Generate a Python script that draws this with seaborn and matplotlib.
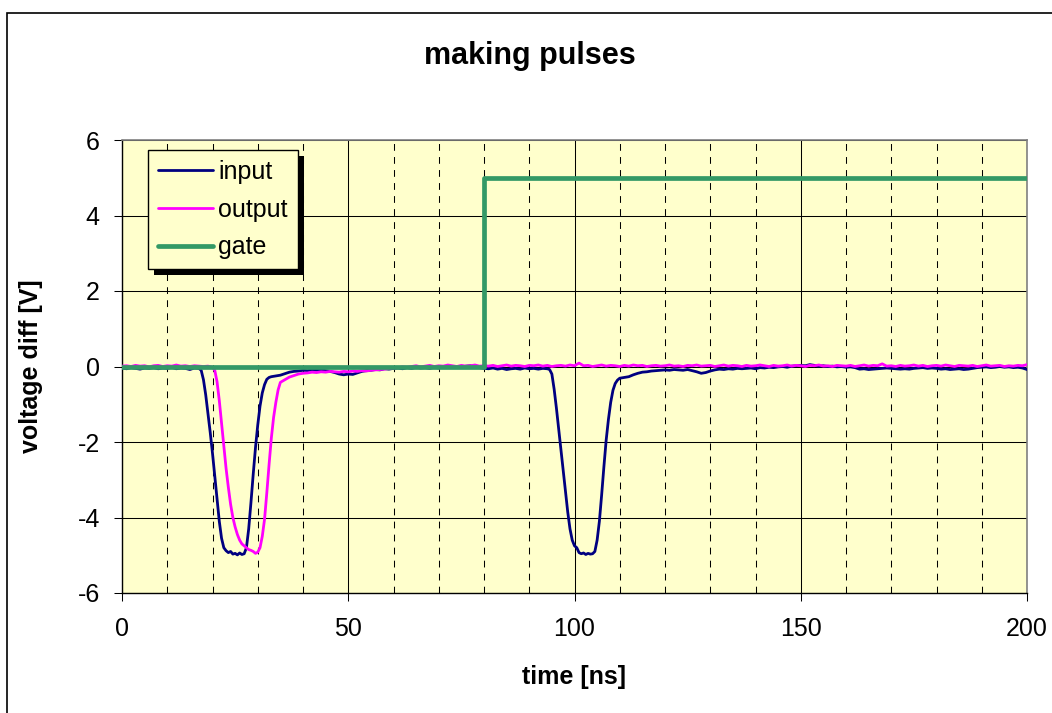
import matplotlib
matplotlib.use('Agg')
import matplotlib.pyplot as plt
from matplotlib.patches import Rectangle
import pandas as pd
import seaborn as sns

# input pulse trace
input_t = [
    0, 1, 2, 3, 4, 5, 6, 7, 8, 9, 10, 11, 12, 13, 14, 15, 16, 17,
    17.5, 18, 18.5, 19, 19.5, 20, 20.5, 21, 21.5, 22, 22.5, 23, 23.5, 24,
    24.5, 25, 25.5, 26, 26.5, 27, 27.5, 28, 28.5, 29, 29.5, 30, 30.5, 31,
    31.5, 32, 32.5,
    33, 34, 35, 36, 37, 38, 39, 40, 41, 42, 43, 44, 45, 46, 47, 48, 49, 50,
    51, 52, 53, 54, 55, 56, 57, 58, 59, 60, 61, 62, 63, 64, 65, 66, 67, 68,
    69, 70, 71, 72, 73, 74, 75, 76, 77, 78, 79, 80, 81, 82, 83, 84, 85, 86,
    87, 88, 89, 90, 91, 92, 93, 94,
    94.5, 95, 95.5, 96, 96.5, 97, 97.5, 98, 98.5, 99, 99.5, 100, 100.5, 101,
    101.5, 102, 102.5, 103, 103.5, 104, 104.5, 105, 105.5, 106, 106.5, 107,
    107.5, 108, 108.5, 109, 109.5, 110,
    111, 112, 113, 114, 115, 116, 117, 118, 119, 120, 121, 122, 123, 124,
    125, 126, 127, 128, 129, 130, 131, 132, 133, 134, 135, 136, 137, 138,
    139, 140, 141, 142, 143, 144, 145, 146, 147, 148, 149, 150, 151, 152,
    153, 154, 155, 156, 157, 158, 159, 160, 161, 162, 163, 164, 165, 166,
    167, 168, 169, 170, 171, 172, 173, 174, 175, 176, 177, 178, 179, 180,
    181, 182, 183, 184, 185, 186, 187, 188, 189, 190, 191, 192, 193, 194,
    195, 196, 197, 198, 199, 200,
]
input_v = [
    -0.04, -0.06, -0.03, -0.05, -0.07, -0.04, -0.05, -0.03, -0.06, -0.04,
    -0.05, -0.02, -0.06, -0.04, -0.05, -0.08, -0.04, -0.05,
    -0.1, -0.35, -0.75, -1.25, -1.75, -2.3, -2.9, -3.5, -4.1, -4.55, -4.8,
    -4.88, -4.93, -4.9, -4.97, -4.95, -4.99, -4.94, -4.98, -4.96, -4.8,
    -4.3, -3.6, -2.85, -2.15, -1.55, -1.05, -0.7, -0.48, -0.34, -0.29,
    -0.27, -0.25, -0.23, -0.19, -0.15, -0.13, -0.12, -0.1, -0.11, -0.09,
    -0.1, -0.08, -0.11, -0.13, -0.16, -0.2, -0.22, -0.2, -0.21, -0.17,
    -0.13, -0.11, -0.1, -0.08, -0.09, -0.06, -0.07, -0.05,
    -0.04, -0.06, -0.03, -0.05, -0.02, -0.04, -0.03, -0.05, -0.02, -0.04,
    -0.01, -0.03, -0.02, 0.0, -0.02, 0.01, 0.02, 0.0, -0.03,
    -0.05, -0.06, -0.04, -0.07, -0.05, -0.08, -0.06, -0.05, -0.07, -0.04,
    -0.06, -0.05, -0.07, -0.05, -0.06,
    -0.08, -0.2, -0.6, -1.1, -1.65, -2.2, -2.75, -3.3, -3.85, -4.3, -4.6,
    -4.75, -4.8, -4.93, -4.96, -4.94, -4.98, -4.95, -4.97, -4.96, -4.9,
    -4.6, -4.1, -3.4, -2.65, -1.95, -1.4, -0.95, -0.63, -0.45, -0.36, -0.31,
    -0.29, -0.27, -0.22, -0.18, -0.15, -0.14, -0.12, -0.11, -0.1, -0.09,
    -0.1, -0.08, -0.09, -0.1, -0.08, -0.11, -0.14,
    -0.18, -0.16, -0.12, -0.09, -0.07,
    -0.08, -0.06, -0.07, -0.05, -0.06, -0.05, -0.04, -0.06, -0.03, -0.04,
    -0.02, -0.03, -0.01, 0.0, -0.02, 0.01, 0.02,
    0.03, 0.02, 0.05, 0.03, 0.01, 0.02, 0.0, 0.01, -0.01, 0.0, -0.02, -0.01,
    -0.03,
    -0.07, -0.06, -0.08, -0.07, -0.06, -0.05,
    -0.04, -0.05, -0.06, -0.07, -0.06, -0.07, -0.05, -0.04, -0.03, -0.05,
    -0.04, -0.05,
    -0.07, -0.06, -0.08, -0.07, -0.06, -0.08, -0.07, -0.05,
    -0.03, -0.02, -0.01, -0.03, -0.02, 0.0, -0.02, -0.01, -0.03, -0.02,
    -0.04, -0.08,
]

# output trace
output_t = [
    0, 1, 2, 3, 4, 5, 6, 7, 8, 9, 10, 11, 12, 13, 14, 15, 16, 17, 18, 19,
    20, 20.5, 21, 21.5, 22, 22.5, 23, 23.5, 24, 24.5, 25, 25.5, 26, 26.5,
    27, 27.5, 28, 28.5, 29, 29.5, 30, 30.5, 31, 31.5, 32, 32.5, 33, 33.5,
    34, 34.5, 35,
    36, 37, 38, 39, 40, 41, 42, 43, 44, 45, 46, 47, 48, 49, 50, 51, 52, 53,
    54, 55, 56, 57, 58, 59, 60, 61, 62, 63, 64, 65, 66, 67, 68, 69, 70, 71,
    72, 73, 74, 75, 76, 77, 78, 79, 80,
    81, 82, 83, 84, 85, 86, 87, 88, 89, 90, 91, 92, 93, 94, 95, 96, 97, 98,
    99, 100, 101, 102, 103, 104, 105, 106, 107, 108, 109, 110, 111, 112,
    113, 114, 115, 116, 117, 118, 119, 120, 121, 122, 123, 124, 125, 126,
    127, 128, 129, 130, 131, 132, 133, 134, 135, 136, 137, 138, 139, 140,
    141, 142, 143, 144, 145, 146, 147, 148, 149, 150, 151, 152, 153, 154,
    155, 156, 157, 158, 159, 160, 161, 162, 163, 164, 165, 166, 167, 168,
    169, 170, 171, 172, 173, 174, 175, 176, 177, 178, 179, 180, 181, 182,
    183, 184, 185, 186, 187, 188, 189, 190, 191, 192, 193, 194, 195, 196,
    197, 198, 199, 200,
]
output_v = [
    0.01, 0.02, 0.0, 0.03, 0.01, 0.02, -0.01, 0.02, 0.03, 0.0, 0.02, 0.01,
    0.04, 0.01, 0.02, 0.0, 0.02, 0.01, 0.0, 0.01,
    -0.02, -0.1, -0.4, -0.9, -1.5, -2.1, -2.7, -3.2, -3.65, -4.0, -4.25,
    -4.45, -4.6, -4.7, -4.75, -4.8, -4.85, -4.87, -4.9, -4.95, -4.92,
    -4.8, -4.5, -4.05, -3.35, -2.6, -1.9, -1.35, -0.95, -0.62, -0.42,
    -0.35, -0.28, -0.24, -0.2, -0.18, -0.17, -0.15, -0.16, -0.14, -0.15,
    -0.13, -0.14, -0.15, -0.13, -0.14, -0.12, -0.13, -0.11, -0.12, -0.1,
    -0.09, -0.08, -0.07, -0.05, -0.04,
    -0.03, -0.01, -0.02, 0.0, 0.02, -0.01, 0.01, 0.03, 0.0, 0.02, 0.01,
    0.04, 0.02, 0.0, 0.03, 0.01, 0.02, 0.04, 0.01, 0.02,
    0.01, 0.03, 0.0, 0.02, 0.04, 0.01, 0.03, 0.02, 0.0, 0.03,
    0.02, 0.04, 0.01, 0.03, 0.0, 0.02, 0.03, 0.01, 0.04, 0.02,
    0.09, 0.02, 0.03, 0.0, 0.02, 0.04, 0.01, 0.03, 0.02, 0.0,
    0.03, 0.01, 0.04, 0.02, 0.03, 0.0, 0.02, 0.03, 0.01, 0.02,
    0.04, 0.01, 0.02, 0.0, 0.03, 0.02, 0.04, 0.01, 0.02, 0.03,
    0.0, 0.02, 0.04, 0.01, 0.03, 0.02, 0.0, 0.03, 0.01, 0.02,
    0.04, 0.02, 0.0, 0.03, 0.01, 0.02, 0.04, 0.01, 0.03, 0.02,
    0.0, 0.03, 0.02, 0.04, 0.01, 0.02, 0.0, 0.03, 0.02, 0.01,
    0.03, 0.0, 0.02, 0.04, 0.01, 0.03, 0.02, 0.07, 0.01, 0.02,
    0.0, 0.03, 0.01, 0.02, 0.04, 0.01, 0.03, 0.0, 0.02, 0.03,
    0.01, 0.04, 0.02, 0.0, 0.03, 0.02, 0.01, 0.03, 0.0, 0.02,
    0.04, 0.01, 0.02, 0.03, 0.0, 0.02, 0.01, 0.03, 0.02, 0.05,
]

# gate signal
gate_t = [0, 80, 80, 200]
gate_v = [0, 0, 5, 5]

x_ticks = [0, 50, 100, 150, 200]
x_minor = [10, 20, 30, 40, 60, 70, 80, 90, 110, 120, 130, 140, 160, 170, 180, 190]
y_ticks = [-6, -4, -2, 0, 2, 4, 6]

sns.set_theme(style='white')
plt.rcParams['font.family'] = ['Liberation Sans', 'DejaVu Sans']
plt.rcParams['axes.unicode_minus'] = False
plt.rcParams['text.color'] = 'black'

W, H = 1052, 713
fig = plt.figure(figsize=(W / 100, H / 100), dpi=100)
ax = fig.add_axes([122 / W, 1 - 593 / H, 905 / W, 453 / H])
ax.set_facecolor('#FFFFCC')

df_in = pd.DataFrame({'time': input_t, 'volt': input_v})
df_out = pd.DataFrame({'time': output_t, 'volt': output_v})
df_gate = pd.DataFrame({'time': gate_t, 'volt': gate_v})

sns.lineplot(data=df_in, x='time', y='volt', color='#000080', lw=2.0,
             estimator=None, sort=False, ax=ax, label='input', zorder=3)
sns.lineplot(data=df_out, x='time', y='volt', color='#FF00FF', lw=2.0,
             estimator=None, sort=False, ax=ax, label='output', zorder=3.1)
sns.lineplot(data=df_gate, x='time', y='volt', color='#339966', lw=3.4,
             estimator=None, sort=False, ax=ax, label='gate', zorder=3.2)

ax.set_xlim(0, 200)
ax.set_ylim(-6, 6)
ax.set_xticks(x_ticks)
ax.set_xticks(x_minor, minor=True)
ax.set_yticks(y_ticks)
ax.set_xlabel('')
ax.set_ylabel('')
ax.grid(which='major', color='black', lw=0.75)
ax.grid(which='minor', axis='x', color='black', lw=0.75, ls=(0, (6.5, 6)))
ax.set_axisbelow(True)
ax.tick_params(which='minor', length=0)
ax.tick_params(which='major', direction='out', length=6, width=0.75,
               color='black', labelsize=18, labelcolor='black',
               bottom=True, left=True)
ax.tick_params(axis='y', pad=10)
ax.tick_params(axis='x', pad=11)

for side in ['left', 'bottom']:
    ax.spines[side].set_color('black')
    ax.spines[side].set_linewidth(1)
for side in ['top', 'right']:
    ax.spines[side].set_color('#808080')
    ax.spines[side].set_linewidth(1.2)

leg = ax.legend(loc='upper left', bbox_to_anchor=(0.029, 0.978),
                frameon=True, fancybox=False, framealpha=1,
                facecolor='#FFFFCC', edgecolor='black', fontsize=18,
                handlelength=2.2, handletextpad=0.2, labelspacing=0.55,
                borderpad=0.4, borderaxespad=0)
leg.get_frame().set_linewidth(1)
leg.set_zorder(5)
for txt in leg.get_texts():
    txt.set_color('black')

# black drop shadow behind the legend box
fig.canvas.draw()
bb = leg.get_window_extent()
inv = ax.transAxes.inverted()
(x0, y0), (x1, y1) = inv.transform([[bb.x0 + 6, bb.y0 - 6], [bb.x1 + 6, bb.y1 - 6]])
ax.add_patch(Rectangle((x0, y0), x1 - x0, y1 - y0, transform=ax.transAxes,
                       facecolor='black', edgecolor='none', zorder=4.5,
                       clip_on=False))

fig.text(530 / W, 1 - 56 / H, 'making pulses', ha='center', va='center',
         fontsize=22, fontweight='bold', color='black')
fig.text(574 / W, 1 - 677 / H, 'time [ns]', ha='center', va='center',
         fontsize=18, fontweight='bold', color='black')
fig.text(31 / W, 1 - 366 / H, 'voltage diff [V]', ha='center', va='center',
         rotation=90, fontsize=18, fontweight='bold', color='black')

# outer chart frame (runs off the right and bottom edges)
fig.add_artist(Rectangle((7 / W, -0.1), 1.2, 1 - 13 / H + 0.1,
                         transform=fig.transFigure, fill=False,
                         edgecolor='black', lw=1.2))

fig.savefig('out.png', dpi=100)
